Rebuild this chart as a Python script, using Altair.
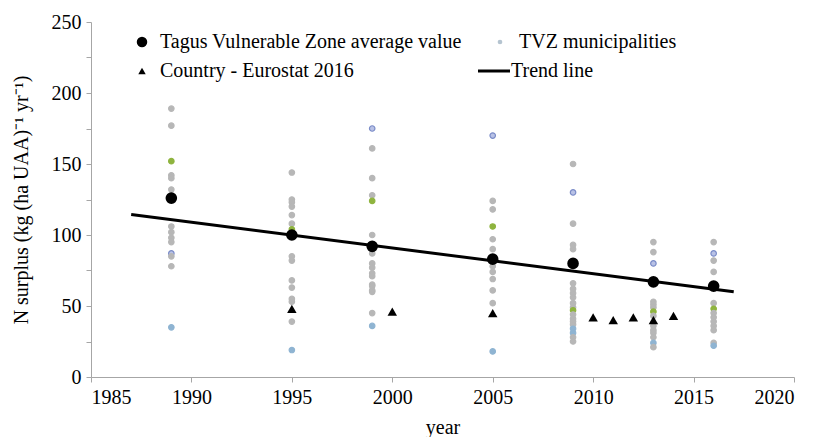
import altair as alt
import pandas as pd

# ---- data ----
avg_years = [1989, 1995, 1999, 2005, 2009, 2013, 2016]
avg_values = [126, 100, 92, 83, 80, 67, 64]

euro_years = [1995, 2000, 2005, 2010, 2011, 2012, 2013, 2014]
euro_values = [48, 46, 45, 42, 40, 42, 40, 43]

trend_years = [1987, 2017]
trend_values = [114.5, 60]

muni_1989 = [189, 177, 152, 142, 140, 132, 125, 106, 102, 98, 95, 87, 85, 78, 35]
cat_1989 = ["g", "g", "green", "g", "g", "g", "g", "g", "g", "g", "g", "blue", "g", "g", "lblue"]
muni_1995 = [144, 125, 123, 120, 114, 108, 104, 100, 85, 82, 68, 63, 55, 53, 39, 19]
cat_1995 = ["g", "g", "g", "g", "g", "g", "green", "g", "g", "g", "g", "g", "g", "g", "g", "lblue"]
muni_1999 = [175, 161, 140, 128, 124, 100, 87, 80, 77, 73, 71, 65, 64, 61, 60, 45, 36]
cat_1999 = ["blue", "g", "g", "g", "green", "g", "g", "g", "g", "g", "g", "g", "g", "g", "g", "g", "lblue"]
muni_2005 = [170, 124, 118, 106, 97, 90, 81, 78, 74, 69, 61, 52, 18]
cat_2005 = ["blue", "g", "g", "green", "g", "g", "g", "g", "g", "g", "g", "g", "lblue"]
muni_2009 = [150, 130, 108, 93, 90, 66, 62, 59, 56, 52, 49, 47, 44, 41, 39, 37, 34, 31, 28, 25]
cat_2009 = ["g", "blue", "g", "g", "g", "g", "g", "g", "g", "g", "g", "green", "g", "g", "g", "g", "lblue", "lblue", "g", "g"]
muni_2013 = [95, 88, 80, 53, 51, 49, 46, 43, 36, 33, 31, 28, 24, 21]
cat_2013 = ["g", "g", "blue", "g", "g", "g", "green", "g", "g", "g", "g", "g", "lblue", "g"]
muni_2016 = [95, 87, 82, 74, 52, 48, 45, 42, 39, 36, 33, 24, 22]
cat_2016 = ["g", "blue", "g", "g", "g", "green", "g", "g", "g", "g", "g", "g", "lblue"]

legend_labels = ["Tagus Vulnerable Zone average value", "TVZ municipalities",
                 "Country - Eurostat 2016", "Trend line"]

# ---- tables ----
rows = []
for yr, vals, cats in [(1989, muni_1989, cat_1989), (1995, muni_1995, cat_1995),
                       (1999, muni_1999, cat_1999), (2005, muni_2005, cat_2005),
                       (2009, muni_2009, cat_2009), (2013, muni_2013, cat_2013),
                       (2016, muni_2016, cat_2016)]:
    for v, c in zip(vals, cats):
        rows.append({"year": yr, "value": v, "cat": c})
muni = pd.DataFrame(rows)
avg = pd.DataFrame({"year": avg_years, "value": avg_values})
euro = pd.DataFrame({"year": euro_years, "value": euro_values})
trend = pd.DataFrame({"year": trend_years, "value": trend_values})

FONT = "Liberation Serif"
FS = 20
W, H = 703, 355

xscale = alt.Scale(domain=[1985, 2020], nice=False)
yscale = alt.Scale(domain=[0, 250], nice=False)

xaxis = alt.Axis(values=list(range(1985, 2021, 5)), format="d", title="year",
                 grid=False, domainColor="#a6a6a6", tickColor="#a6a6a6", tickSize=5,
                 labelFont=FONT, labelFontSize=FS, labelColor="black", labelPadding=5,
                 titleFont=FONT, titleFontSize=FS, titleFontWeight="normal",
                 titleColor="black", titlePadding=10)
yaxis = alt.Axis(values=list(range(0, 251, 25)),
                 labelExpr="datum.value % 50 == 0 ? datum.label : ''",
                 title="N surplus (kg (ha UAA)⁻¹ yr⁻¹)",
                 grid=False, domainColor="#a6a6a6", tickColor="#a6a6a6", tickSize=5,
                 labelFont=FONT, labelFontSize=FS, labelColor="black", labelPadding=5,
                 titleFont=FONT, titleFontSize=FS, titleFontWeight="normal",
                 titleColor="black", titleX=-70, titleY=H / 2, titleAngle=270,
                 titleAlign="center", titleBaseline="middle")

x = alt.X("year:Q", scale=xscale, axis=xaxis)
y = alt.Y("value:Q", scale=yscale, axis=yaxis)

cat_domain = ["g", "green", "blue", "lblue"]
muni_layer = alt.Chart(muni).mark_point(filled=True, size=30, opacity=1, strokeWidth=1.2).encode(
    x=x, y=y,
    fill=alt.Color("cat:N", scale=alt.Scale(domain=cat_domain,
                                             range=["#b7b7b7", "#8fb43f", "#b9c2e6", "#8fb4d2"]),
                   legend=None),
    stroke=alt.Stroke("cat:N", scale=alt.Scale(domain=cat_domain,
                                                range=["#b7b7b7", "#8fb43f", "#7b8cc8", "#8fb4d2"]),
                      legend=None),
)

trend_layer = alt.Chart(trend).mark_line(color="black", strokeWidth=3).encode(x=x, y=y)

avg_layer = alt.Chart(avg).mark_circle(color="black", size=135, opacity=1).encode(x=x, y=y)

euro_layer = alt.Chart(euro).mark_point(shape="triangle-up", filled=True, color="black",
                                        size=90, opacity=1).encode(x=x, y=y)

# ---- manual legend (pixel layout) ----
leg_sym_x = [51, 409, 51]
leg_sym_y = [20, 20, 49]
leg_text_x = [69, 428, 69, 420]
leg_text_y = [20, 20, 49, 49]

leg_avg = alt.Chart(pd.DataFrame({"k": [0]})).mark_circle(color="black", size=110, opacity=1).encode(
    x=alt.value(leg_sym_x[0]), y=alt.value(leg_sym_y[0]))
leg_muni = alt.Chart(pd.DataFrame({"k": [0]})).mark_circle(color="#b5c4d0", size=22, opacity=1).encode(
    x=alt.value(leg_sym_x[1]), y=alt.value(leg_sym_y[1]))
leg_tri = alt.Chart(pd.DataFrame({"k": [0]})).mark_point(shape="triangle-up", filled=True,
                                                         color="black", size=55, opacity=1).encode(
    x=alt.value(leg_sym_x[2]), y=alt.value(leg_sym_y[2]))
leg_line = alt.Chart(pd.DataFrame({"k": [0]})).mark_rule(color="black", strokeWidth=3).encode(
    x=alt.value(387), x2=alt.value(419), y=alt.value(49))

leg_text_df = pd.DataFrame({"label": legend_labels, "px": leg_text_x, "py": leg_text_y})
leg_text = alt.Chart(leg_text_df).mark_text(font=FONT, fontSize=FS, align="left",
                                            baseline="middle", color="black").encode(
    x=alt.X("px:Q", scale=None), y=alt.Y("py:Q", scale=None), text="label:N")

chart = alt.layer(muni_layer, trend_layer, avg_layer, euro_layer,
                  leg_avg, leg_muni, leg_tri, leg_line, leg_text).properties(
    width=W, height=H,
    autosize=alt.AutoSizeParams(type="none"),
    padding={"left": 83, "top": 14, "right": 12, "bottom": 60},
    background="white",
).configure_view(stroke=None)

chart.save("out.html", embed_options={"renderer": "svg", "actions": False})
